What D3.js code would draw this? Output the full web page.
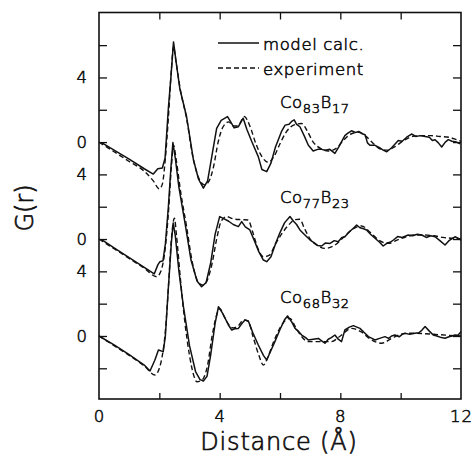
<!DOCTYPE html>
<html>
<head>
<meta charset="utf-8">
<script src="https://cdn.jsdelivr.net/npm/d3@7/dist/d3.min.js"></script>
<style>
  html, body { margin: 0; padding: 0; background: #fff; }
  svg { display: block; }
  text { font-family: "DejaVu Sans", "Liberation Sans", sans-serif; font-weight: 200;
         fill: #111; stroke: #111; stroke-width: 0.6px; }
</style>
</head>
<body>
<svg id="chart" width="475" height="456"></svg>
<script>
// Pair distribution functions G(r) of amorphous Co-B alloys: model vs. experiment.
// Each composition is shifted vertically by its own offset (in G units).

const compositions = [
  { co: "83", b: "17" },
  { co: "77", b: "23" },
  { co: "68", b: "32" }
];
const seriesOffsets = [12, 6, 0];

// Co83B17 – model calculation
const rModel83 = [0.1,0.5,1.0,1.5,1.8,1.95,2.1,2.19,2.3,2.39,2.47,2.57,2.68,2.9,3.13,3.3,3.46,3.6,3.73,3.9,4.05,4.26,4.38,4.48,4.62,4.78,4.9,5.06,5.28,5.4,5.56,5.7,5.85,6.06,6.17,6.3,6.4,6.47,6.55,6.66,6.8,6.94,7.1,7.25,7.38,7.5,7.65,7.82,7.95,8.15,8.25,8.37,8.5,8.62,8.75,8.82,8.9,8.98,9.15,9.3,9.42,9.54,9.7,9.8,9.92,10.05,10.2,10.36,10.5,10.65,10.81,10.95,11.05,11.14,11.25,11.36,11.48,11.58,11.7,11.85,11.97];
const gModel83 = [-0.05,-0.5,-1.05,-1.65,-1.98,-1.65,-1.6,-1.0,2.1,4.16,6.2,4.78,3.3,1.6,-1.1,-2.3,-2.85,-2.4,-1.0,0.85,1.35,1.58,1.2,0.88,0.95,1.48,0.8,0.05,-0.9,-1.7,-1.83,-1.3,-0.3,0.7,1.05,1.1,1.3,1.38,1.1,0.95,0.4,-0.2,-0.55,-0.45,-0.45,-0.5,-0.45,-0.7,-0.3,0.4,0.55,0.7,0.6,0.65,0.5,0.45,-0.05,-0.2,-0.2,-0.35,-0.5,-0.6,-0.35,-0.15,0.1,0.05,0.3,0.5,0.35,0.4,0.35,0.3,0.1,0.15,-0.05,-0.3,0.0,0.15,0.05,0.0,-0.1];

// Co83B17 – experiment
const rExp83 = [0,0.5,1.0,1.5,1.8,2.0,2.1,2.2,2.3,2.4,2.47,2.55,2.7,2.9,3.1,3.3,3.5,3.65,3.8,3.95,4.1,4.3,4.45,4.6,4.82,5.0,5.2,5.4,5.61,5.8,6.0,6.2,6.45,6.72,6.9,7.1,7.35,7.6,7.85,8.1,8.35,8.6,8.85,9.1,9.35,9.55,9.8,10.1,10.4,10.7,11.0,11.3,11.6,11.85,12.0];
const gExp83 = [0,-0.6,-1.2,-1.8,-2.4,-2.9,-2.6,-1.0,1.5,4.5,5.9,5.0,3.2,1.5,-0.8,-2.2,-2.65,-2.4,-1.5,0.0,0.9,1.25,1.0,1.0,1.58,1.0,-0.1,-0.9,-1.25,-0.9,-0.1,0.6,1.05,1.15,0.7,0.0,-0.4,-0.55,-0.4,0.1,0.5,0.6,0.35,-0.1,-0.45,-0.5,-0.3,0.1,0.35,0.4,0.4,0.35,0.3,0.15,0.05];

// Co77B23 – model calculation
const rModel77 = [0.1,0.5,1.0,1.5,1.83,1.95,2.02,2.12,2.2,2.3,2.38,2.45,2.53,2.65,2.85,3.05,3.25,3.4,3.55,3.7,3.85,4.0,4.15,4.3,4.45,4.62,4.73,4.85,5.0,5.15,5.3,5.45,5.56,5.7,5.85,6.0,6.15,6.33,6.45,6.55,6.66,6.8,7.0,7.15,7.25,7.38,7.5,7.66,7.8,7.93,8.05,8.15,8.3,8.45,8.54,8.65,8.75,8.87,9.0,9.15,9.3,9.42,9.55,9.65,9.76,9.9,10.05,10.25,10.4,10.55,10.7,10.85,11.0,11.14,11.3,11.47,11.6,11.8,11.9,12.0];
const gModel77 = [-0.05,-0.55,-1.15,-1.75,-2.16,-1.6,-1.4,-1.35,-0.3,2.0,4.3,5.97,5.0,3.2,1.0,-1.3,-2.6,-2.95,-2.7,-1.5,0.3,1.39,1.25,1.1,0.9,0.77,1.08,0.75,0.56,-0.1,-0.8,-1.3,-1.4,-1.1,-0.3,0.4,1.0,1.39,1.1,0.9,0.56,0.3,-0.06,-0.25,-0.4,-0.43,-0.25,-0.27,-0.1,-0.17,0.1,0.14,0.45,0.7,0.87,0.7,0.65,0.56,0.3,0.05,-0.2,-0.43,-0.25,-0.2,-0.06,0.15,0.1,0.25,0.2,0.3,0.25,0.1,0.2,0.14,-0.1,-0.37,-0.1,0.14,0.05,-0.06];

// Co77B23 – experiment
const rExp77 = [0,0.5,1.0,1.5,1.91,2.05,2.2,2.3,2.4,2.47,2.56,2.7,2.9,3.1,3.3,3.45,3.6,3.75,3.9,4.05,4.23,4.45,4.7,4.94,5.1,5.25,5.45,5.65,5.85,6.05,6.3,6.5,6.66,6.8,7.0,7.2,7.5,7.8,8.1,8.4,8.7,9.0,9.3,9.6,9.9,10.2,10.5,10.8,11.1,11.4,11.7,12.0];
const gExp77 = [0.0,-0.6,-1.2,-1.8,-2.33,-2.0,-0.5,1.6,4.5,5.8,4.9,3.0,0.8,-1.5,-2.7,-2.85,-2.5,-1.5,0.0,1.1,1.39,1.25,1.2,1.18,0.4,-0.5,-1.1,-1.0,-0.3,0.3,0.9,1.2,1.22,0.7,0.0,-0.35,-0.58,-0.4,0.1,0.6,0.81,0.4,-0.1,-0.27,-0.05,0.15,0.25,0.25,0.2,0.1,0.05,0.0];

// Co68B32 – model calculation
const rModel68 = [0.0,0.5,1.0,1.5,1.69,1.85,1.97,2.13,2.2,2.3,2.4,2.46,2.53,2.65,2.8,3.0,3.2,3.35,3.46,3.58,3.7,3.85,3.96,4.1,4.29,4.4,4.5,4.62,4.75,4.84,4.95,5.1,5.28,5.45,5.56,5.7,5.83,6.0,6.15,6.25,6.38,6.5,6.6,6.72,6.85,6.94,7.1,7.27,7.38,7.49,7.6,7.7,7.82,7.93,8.04,8.15,8.3,8.43,8.55,8.65,8.8,8.93,9.05,9.15,9.3,9.48,9.6,9.7,9.81,9.95,10.05,10.14,10.3,10.47,10.6,10.7,10.81,10.95,11.08,11.2,11.35,11.47,11.6,11.7,11.8,11.9,12.0];
const gModel68 = [0.0,-0.55,-1.15,-1.8,-2.17,-1.5,-0.87,-0.97,0.0,3.0,5.8,7.0,6.2,4.0,1.8,-0.6,-2.2,-2.7,-2.79,-2.5,-1.2,0.8,1.81,1.4,0.68,0.37,0.45,0.47,0.8,0.99,0.93,0.2,-0.56,-1.2,-1.49,-0.9,-0.35,0.4,1.0,1.24,0.9,0.47,0.3,0.06,-0.1,-0.25,-0.2,-0.15,-0.3,-0.45,-0.2,-0.1,0.06,-0.2,-0.35,0.37,0.55,0.64,0.55,0.47,0.2,-0.04,-0.15,-0.25,-0.15,-0.04,-0.15,0.0,0.06,-0.05,0.1,0.17,0.1,0.17,0.2,0.35,0.58,0.3,0.06,0.0,-0.1,-0.14,-0.05,0.0,0.06,0.05,0.27];

// Co68B32 – experiment
const rExp68 = [0.0,0.5,1.0,1.5,1.86,2.0,2.1,2.2,2.3,2.4,2.5,2.57,2.7,2.85,3.0,3.15,3.24,3.4,3.6,3.75,3.9,4.0,4.15,4.3,4.45,4.6,4.8,4.95,5.1,5.3,5.45,5.6,5.8,6.0,6.2,6.33,6.5,6.7,6.94,7.3,7.7,8.0,8.37,8.7,9.0,9.37,9.7,10.0,10.25,10.7,11.14,11.5,12.0];
const gExp68 = [0.0,-0.6,-1.2,-1.85,-2.41,-2.0,-1.2,0.3,3.0,6.0,7.29,6.2,3.5,0.8,-1.2,-2.5,-2.83,-2.75,-1.8,0.0,1.3,1.7,1.2,0.7,0.5,0.6,1.0,0.9,0.0,-1.2,-1.8,-1.3,-0.3,0.5,1.0,1.09,0.6,0.0,-0.35,-0.35,-0.35,0.0,0.47,0.25,-0.2,-0.45,-0.15,0.1,0.17,0.15,0.1,0.05,0.0];

const modelR = [rModel83, rModel77, rModel68];
const modelG = [gModel83, gModel77, gModel68];
const expR = [rExp83, rExp77, rExp68];
const expG = [gExp83, gExp77, gExp68];

// Axis ticks
const xTicks = [0, 2, 4, 6, 8, 10, 12];
const xTickLabels = ["0", "", "4", "", "8", "", "12"];
const yTicks = [-2, 0, 2, 4, 6, 8, 10, 12, 14, 16, 18];
const yTickLabels = ["", "0", "", "4", "0", "", "4", "0", "", "4", ""];

const legendLabels = ["model calc.", "experiment"];

const svg = d3.select("#chart");
const m = { left: 99, right: 461, top: 12.5, bottom: 399 };

const x = d3.scaleLinear().domain([0, 12]).range([m.left, m.right]);
const y = d3.scaleLinear().domain([-3.9, 20.02]).range([m.bottom, m.top]);

const ink = "#111";

// Axes (inner ticks on all four sides)
const xLab = d3.scaleOrdinal().domain(xTicks).range(xTickLabels);
const yLab = d3.scaleOrdinal().domain(yTicks).range(yTickLabels);

const gx = svg.append("g").attr("transform", `translate(0,${m.bottom})`)
  .call(d3.axisBottom(x).tickValues(xTicks).tickSize(-6).tickPadding(11).tickFormat(d => xLab(d)));
const gxTop = svg.append("g").attr("transform", `translate(0,${m.top})`)
  .call(d3.axisTop(x).tickValues(xTicks).tickSize(-7).tickFormat(""));
const gy = svg.append("g").attr("transform", `translate(${m.left},0)`)
  .call(d3.axisLeft(y).tickValues(yTicks).tickSize(-8).tickPadding(11).tickFormat(d => yLab(d)));
const gyRight = svg.append("g").attr("transform", `translate(${m.right},0)`)
  .call(d3.axisRight(y).tickValues(yTicks).tickSize(-8).tickFormat(""));

[gx, gxTop, gy, gyRight].forEach(g => {
  g.select(".domain").remove();
  g.selectAll(".tick line").attr("stroke", ink).attr("stroke-width", 1.3);
  g.selectAll(".tick text").attr("fill", ink).attr("stroke", ink).attr("stroke-width", 0.6)
    .style("font-size", "16.5px")
    .style("font-family", "DejaVu Sans, sans-serif").style("font-weight", 200)
    .attr("letter-spacing", "1px");
});
// end ticks coincide with the frame corners
[gx, gxTop].forEach(g => g.selectAll(".tick").filter(d => d === 0 || d === 12).select("line").remove());

// Frame
svg.append("rect")
  .attr("x", m.left).attr("y", m.top)
  .attr("width", m.right - m.left).attr("height", m.bottom - m.top)
  .attr("fill", "none").attr("stroke", ink).attr("stroke-width", 1.6);

const plot = svg.append("g");

const lineModel = d3.line().x(d => x(d[0])).y(d => y(d[1])).curve(d3.curveLinear);
const lineExp = d3.line().x(d => x(d[0])).y(d => y(d[1])).curve(d3.curveMonotoneX);

compositions.forEach((c, i) => {
  const off = seriesOffsets[i];
  const exp = expR[i].map((r, k) => [r, expG[i][k] + off]);
  const mod = modelR[i].map((r, k) => [r, modelG[i][k] + off]);
  plot.append("path").datum(exp)
    .attr("d", lineExp).attr("fill", "none").attr("stroke", ink)
    .attr("stroke-width", 1.4).attr("stroke-dasharray", "5,3");
  plot.append("path").datum(mod)
    .attr("d", lineModel).attr("fill", "none").attr("stroke", ink)
    .attr("stroke-width", 1.5).attr("stroke-linejoin", "round");
});

// Composition labels
const labelY = [108.3, 203.3, 303.3];
compositions.forEach((c, i) => {
  const t = svg.append("text").attr("x", 280).attr("y", labelY[i])
    .style("font-size", "16.5px").attr("letter-spacing", "0.6px");
  t.append("tspan").text("Co");
  t.append("tspan").attr("dy", 5).style("font-size", "13px").text(c.co);
  t.append("tspan").attr("dy", -5).text("B");
  t.append("tspan").attr("dy", 5).style("font-size", "13px").text(c.b);
});

// Legend
const legendRows = [{ y: 43, dash: null }, { y: 68, dash: "5,3" }];
legendRows.forEach((row, i) => {
  svg.append("line").attr("x1", 218).attr("x2", 259).attr("y1", row.y).attr("y2", row.y)
    .attr("stroke", ink).attr("stroke-width", 1.4)
    .attr("stroke-dasharray", row.dash);
  svg.append("text").attr("x", 263).attr("y", row.y + 6.5)
    .style("font-size", "16.5px").attr("letter-spacing", "0.6px").text(legendLabels[i]);
});

// Axis titles
svg.append("text").attr("x", 279).attr("y", 450)
  .attr("text-anchor", "middle").style("font-size", "24px").style("stroke-width", "0.7px")
  .attr("letter-spacing", "0.8px")
  .text("Distance (Å)");
svg.append("text").attr("transform", "translate(33,208) rotate(-90)")
  .attr("text-anchor", "middle").style("font-size", "24px").style("stroke-width", "0.7px")
  .text("G(r)");
</script>
</body>
</html>
